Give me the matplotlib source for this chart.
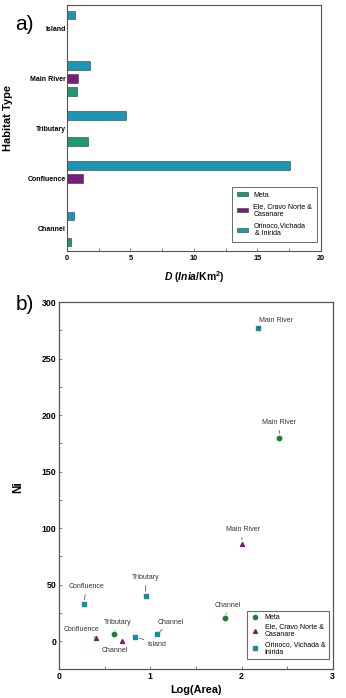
import numpy as np
import matplotlib
matplotlib.use("Agg")
import matplotlib.pyplot as plt
from matplotlib.patches import Patch
from matplotlib.lines import Line2D

plt.rcParams['font.family'] = ['Liberation Sans', 'DejaVu Sans']
plt.rcParams['mathtext.fontset'] = 'custom'
plt.rcParams['mathtext.it'] = 'Liberation Sans:italic:bold'
plt.rcParams['mathtext.rm'] = 'Liberation Sans:bold'
plt.rcParams['mathtext.bf'] = 'Liberation Sans:bold'

# ---------------- data: panel a ----------------
habitats = ["Channel", "Confluence", "Tributary", "Main River", "Island"]
series_names_a = ["Meta", "Ele, Cravo Norte &\nCasanare", "Orinoco,Vichada\n & Inirida"]
meta_D = [0.34, np.nan, 1.63, 0.76, np.nan]
ele_D = [np.nan, 1.26, np.nan, 0.89, np.nan]
orinoco_D = [0.55, 17.6, 4.63, 1.84, 0.63]
xticks_a = [0, 5, 10, 15, 20]

# ---------------- data: panel b ----------------
series_names_b = ["Meta", "Ele, Cravo Norte &\nCasanare", "Orinoco, Vichada &\nInirida"]
meta_logA = [2.415, 1.822, 0.604]
meta_Ni = [180, 20, 6]
meta_lbl = ["Main River", "Channel", "Tributary"]
ele_logA = [2.0, 0.40, 0.69]
ele_Ni = [86, 3, 0]
ele_lbl = ["Main River", "Confluence", "Channel"]
ori_logA = [2.18, 0.267, 0.948, 0.834, 1.068]
ori_Ni = [277, 33, 40, 4, 6]
ori_lbl = ["Main River", "Confluence", "Tributary", "Island", "Channel"]
xticks_b = [0, 1, 2, 3]
yticks_b = [0, 50, 100, 150, 200, 250, 300]

# label offsets (pixels) for annotations
meta_off = [(0, 15), (2, 13), (3, 12)]
ele_off = [(1, 14), (-14, 8), (-7, -9)]
ori_off = [(18, 8), (3, 17), (0, 18), (22, -8), (14, 12)]

c_green = "#1f9a6c"
c_purple = "#7b1a7d"
c_teal = "#1b97b3"
c_green_pt = "#1a7f2e"
c_teal_pt = "#1a8c9c"
spine_c = "#555555"

fig = plt.figure(figsize=(3.46, 6.98), dpi=100)

# ---------------- panel a ----------------
axa = fig.add_axes([0.1936, 0.6404, 0.734, 0.3524])
y = np.arange(len(habitats))
off = 0.26
h = 0.17
for vals, dy, col in [(meta_D, -off, c_green), (ele_D, 0, c_purple), (orinoco_D, off, c_teal)]:
    vals = np.array(vals, dtype=float)
    m = ~np.isnan(vals)
    axa.barh(y[m] + dy, vals[m], height=h, color=col, edgecolor="#333333", linewidth=0.4)
axa.set_xlim(0, 20)
axa.set_ylim(-0.44, 4.46)
axa.set_yticks(y)
axa.set_yticklabels(habitats, fontsize=5, fontweight='bold')
axa.set_xticks(xticks_a)
axa.set_xticklabels([str(t) for t in xticks_a], fontsize=5.2, fontweight='bold')
axa.set_xticks([2.5, 7.5, 12.5, 17.5], minor=True)
axa.tick_params(axis='y', length=0, pad=1)
axa.tick_params(axis='x', which='both', direction='in', length=2, width=0.5, color=spine_c, pad=3)
for s in axa.spines.values():
    s.set_color(spine_c)
    s.set_linewidth(0.8)
axa.set_xlabel(r"$\it{D}$ ($\it{Inia}$/Km$^{2}$)", fontsize=7.5, fontweight='bold', labelpad=5)
handles_a = [Patch(facecolor=c, edgecolor="#333333", linewidth=0.4) for c in (c_green, c_purple, c_teal)]
lga = axa.legend(handles_a, series_names_a, loc='lower right', bbox_to_anchor=(0.984, 0.037),
                 bbox_transform=axa.transAxes, borderaxespad=0, fontsize=5, fancybox=False,
                 edgecolor="#444444", handlelength=1.5, handleheight=0.5, labelspacing=0.6,
                 borderpad=0.7, handletextpad=0.8)
lga.get_frame().set_linewidth(0.7)
fig.text(8 / 346, 1 - 118 / 698, "Habitat Type", rotation=90, fontsize=8, fontweight='bold',
         ha='center', va='center')
fig.text(0.045, 1 - 25 / 698, "a)", fontsize=15, ha='left', va='center')

# ---------------- panel b ----------------
axb = fig.add_axes([0.1714, 0.0411, 0.790, 0.5262])
axb.scatter(meta_logA, meta_Ni, s=10, marker='o', color=c_green_pt, zorder=3)
axb.scatter(ele_logA, ele_Ni, s=8, marker='^', color=c_purple, zorder=3)
axb.scatter(ori_logA, ori_Ni, s=9, marker='s', color=c_teal_pt, zorder=3)
arrow = dict(arrowstyle='-', lw=0.5, color="#444444", shrinkA=1, shrinkB=3)
for xs, ys, lbls, offs in [(meta_logA, meta_Ni, meta_lbl, meta_off),
                            (ele_logA, ele_Ni, ele_lbl, ele_off),
                            (ori_logA, ori_Ni, ori_lbl, ori_off)]:
    for xv, yv, lb, (dx, dy) in zip(xs, ys, lbls, offs):
        axb.annotate(lb, (xv, yv), xytext=(dx, dy), textcoords='offset pixels',
                     fontsize=5, color="#333333", ha='center', va='center', arrowprops=arrow)
axb.set_xlim(0, 3)
axb.set_ylim(-25, 300)
axb.set_xticks(xticks_b)
axb.set_xticklabels([str(t) for t in xticks_b], fontsize=6.3, fontweight='bold')
axb.set_xticks([0.5, 1.5, 2.5], minor=True)
axb.set_yticks(yticks_b)
axb.set_yticklabels([str(t) for t in yticks_b], fontsize=6.3, fontweight='bold')
axb.set_yticks([25, 75, 125, 175, 225, 275], minor=True)
axb.tick_params(which='both', direction='in', length=2, width=0.5, color=spine_c, pad=2)
for s in axb.spines.values():
    s.set_color(spine_c)
    s.set_linewidth(0.9)
axb.set_xlabel("Log(Area)", fontsize=7.8, fontweight='bold', labelpad=3)
fig.text(18 / 346, 1 - 487 / 698, "Ni", rotation=90, fontsize=8.5, fontweight='bold',
         ha='center', va='center')
handles_b = [Line2D([], [], marker='o', ls='', color=c_green_pt, markersize=3),
             Line2D([], [], marker='^', ls='', color=c_purple, markersize=2.8),
             Line2D([], [], marker='s', ls='', color=c_teal_pt, markersize=2.8)]
lgb = axb.legend(handles_b, series_names_b, loc='lower right', bbox_to_anchor=(0.986, 0.028),
                 bbox_transform=axb.transAxes, borderaxespad=0, fontsize=5, fancybox=False,
                 edgecolor="#444444", handlelength=1.5, labelspacing=0.3, borderpad=0.5,
                 handletextpad=0.6)
lgb.get_frame().set_linewidth(0.8)
fig.text(0.045, 1 - 305 / 698, "b)", fontsize=15, ha='left', va='center')

fig.savefig("out.png", dpi=100)
